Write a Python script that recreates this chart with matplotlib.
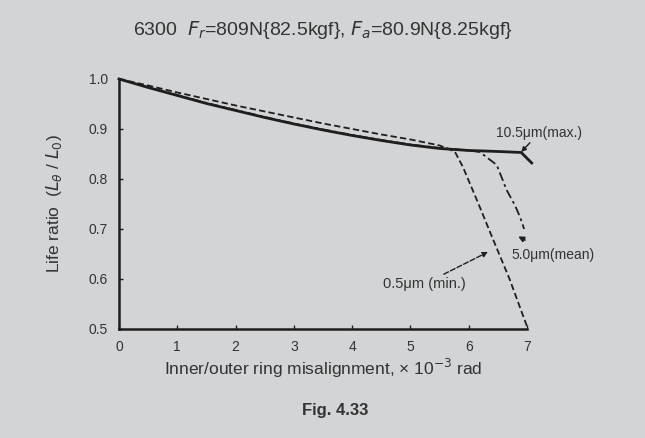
import matplotlib.pyplot as plt

# misalignment (x 10^-3 rad) vs life ratio
x_max = [0, 0.5, 1, 1.5, 2, 2.5, 3, 3.5, 4, 4.5, 5, 5.5, 6, 6.5, 6.9, 7.08]
y_max = [1.0, 0.983, 0.967, 0.951, 0.937, 0.923, 0.910, 0.898, 0.887, 0.877,
         0.868, 0.861, 0.857, 0.855, 0.853, 0.832]

x_mean = [0, 0.5, 1, 1.5, 2, 2.5, 3, 3.5, 4, 4.5, 5, 5.5, 6, 6.19, 6.48, 6.65, 6.79, 6.88, 6.95]
y_mean = [1.0, 0.984, 0.968, 0.952, 0.938, 0.924, 0.911, 0.899, 0.888, 0.878,
          0.869, 0.862, 0.857, 0.854, 0.828, 0.778, 0.748, 0.724, 0.700]

x_min = [0, 0.5, 1, 1.5, 2, 2.5, 3, 3.5, 4, 4.5, 5, 5.5, 5.76, 5.9, 6.15, 6.4, 6.7, 7.0]
y_min = [1.0, 0.987, 0.973, 0.960, 0.947, 0.935, 0.923, 0.911, 0.900, 0.889,
         0.879, 0.867, 0.855, 0.824, 0.755, 0.684, 0.600, 0.505]

xticks = [0, 1, 2, 3, 4, 5, 6, 7]
yticks = [0.5, 0.6, 0.7, 0.8, 0.9, 1.0]

bg = "#d3d4d6"
ink = "#1e1e1e"
txt = "#333333"

plt.rcParams['font.family'] = ['Liberation Sans', 'DejaVu Sans']

fig = plt.figure(figsize=(6.45, 4.38), dpi=100, facecolor=bg)
ax = fig.add_axes([0.1845, 0.2489, 0.6326, 0.5708], facecolor=bg)

ax.plot(x_max, y_max, color=ink, lw=2.0, clip_on=False)
ax.plot(x_mean, y_mean, color=ink, lw=1.3, ls=(0, (5, 2, 1.5, 2)), clip_on=False)
ax.plot(x_min, y_min, color=ink, lw=1.3, ls=(0, (3.5, 1.8)), clip_on=False)

ax.set_xlim(0, 7)
ax.set_ylim(0.5, 1.0)
ax.set_xticks(xticks)
ax.set_yticks(yticks)
ax.set_yticklabels(["%.1f" % v for v in yticks])
ax.tick_params(direction='in', length=3, width=1, labelsize=10, colors=ink, pad=8)
for lbl in ax.get_xticklabels() + ax.get_yticklabels():
    lbl.set_color(txt)
for s in ['top', 'right']:
    ax.spines[s].set_visible(False)
for s in ['left', 'bottom']:
    ax.spines[s].set_linewidth(1.8)
    ax.spines[s].set_color(ink)

ax.set_xlabel("Inner/outer ring misalignment, \u00d7 10$^{-3}$ rad", fontsize=12.5, color=txt, labelpad=2)
ax.set_ylabel("Life ratio  ($L_\\theta$ / $L_0$)", fontsize=12.5, color=txt, labelpad=18)

ax.set_title("6300  $F_r$=809N{82.5kgf}, $F_a$=80.9N{8.25kgf}", fontsize=14, color=txt, pad=32)

# annotations
ax.annotate("10.5\u03bcm(max.)", xy=(6.9, 0.854), xytext=(6.47, 0.878),
            fontsize=10, color=txt, va='bottom',
            arrowprops=dict(arrowstyle='-|>', color=ink, lw=1, mutation_scale=7,
                            shrinkA=0, shrinkB=0),
            annotation_clip=False)
ax.annotate("5.0\u03bcm(mean)", xy=(6.85, 0.685), xytext=(6.74, 0.648),
            fontsize=10, color=txt, va='center', ha='left',
            arrowprops=dict(arrowstyle='-|>', color=ink, lw=1.2, mutation_scale=8,
                            shrinkA=8, shrinkB=0),
            annotation_clip=False)
ax.annotate("0.5\u03bcm (min.)", xy=(6.33, 0.654), xytext=(4.53, 0.59),
            fontsize=10.5, color=txt, va='center', ha='left',
            arrowprops=dict(arrowstyle='-|>', color=ink, lw=1, ls='--', mutation_scale=8,
                            shrinkA=0, shrinkB=0),
            annotation_clip=False)

fig.text(0.52, 0.063, "Fig. 4.33", fontsize=12, fontweight='bold', color=txt,
         ha='center', va='center', family=['Liberation Sans Narrow', 'Liberation Sans'])

fig.savefig("out.png", dpi=100, facecolor=bg)
